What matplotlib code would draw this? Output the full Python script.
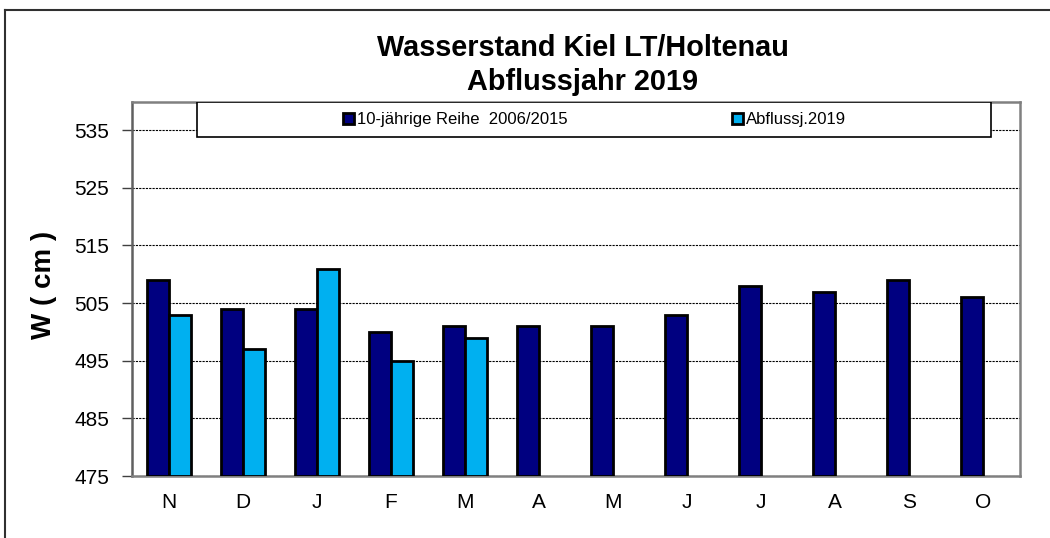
import numpy as np
import matplotlib
matplotlib.use("Agg")
from matplotlib import pyplot as plt
from matplotlib.patches import Rectangle
from matplotlib.lines import Line2D

plt.rcParams["font.family"] = ["Liberation Sans", "DejaVu Sans"]

months = ["N", "D", "J", "F", "M", "A", "M", "J", "J", "A", "S", "O"]
reihe = [509, 504, 504, 500, 501, 501, 501, 503, 508, 507, 509, 506]
abfluss = [503, 497, 511, 495, 499, np.nan, np.nan, np.nan, np.nan, np.nan, np.nan, np.nan]
yticks = [475, 485, 495, 505, 515, 525, 535]

fig = plt.figure(figsize=(10.5, 5.38), dpi=100)
ax = fig.add_axes([132 / 1050, 1 - 476 / 538, 888 / 1050, 374 / 538])

x = np.arange(len(months))
w = 0.3
ax.bar(x - w, np.array(reihe) - 475, width=w, bottom=475, align="edge",
       color="#000080", edgecolor="black", linewidth=2,
       label="10-jährige Reihe  2006/2015", zorder=3)
ax.bar(x, np.array(abfluss) - 475, width=w, bottom=475, align="edge",
       color="#00B0F0", edgecolor="black", linewidth=2,
       label="Abflussj.2019", zorder=3)

ax.set_xlim(-0.5, len(months) - 0.5)
ax.set_ylim(475, 539.9)
ax.set_yticks(yticks)
ax.set_xticks(x)
ax.set_xticklabels(months)
ax.tick_params(axis="x", length=0, pad=12, labelsize=15)
ax.tick_params(axis="y", length=7, width=1, pad=9.5, labelsize=15, color="#404040")
ax.yaxis.grid(True, color="black", linestyle=(0, (2, 1)), linewidth=0.8, zorder=0)
for s in ax.spines.values():
    s.set_color("#808080")
    s.set_linewidth(1.8)
ax.spines["left"].set_color("#606060")

ax.set_ylabel("W ( cm )", fontsize=20, fontweight="bold")
ax.yaxis.set_label_coords(-0.084, 0.51)
fig.text(0.5548, 1 - 48 / 538, "Wasserstand Kiel LT/Holtenau", ha="center", va="center",
         fontsize=20.8, fontweight="bold")
fig.text(0.5548, 1 - 82 / 538, "Abflussjahr 2019", ha="center", va="center",
         fontsize=20.8, fontweight="bold")

# legend box
box = Rectangle((65 / 888, 339 / 374), 794 / 888, 35 / 374, transform=ax.transAxes,
                facecolor="white", edgecolor="black", linewidth=1.2, zorder=5)
ax.add_patch(box)
leg = ax.legend(loc="center left", bbox_to_anchor=(0.228, 0.953), ncol=2, frameon=False,
                fontsize=12, handlelength=0.65, handleheight=0.65, handletextpad=0.2,
                columnspacing=9.85, borderpad=0)
leg.set_zorder(6)

# outer frame
fig.add_artist(Line2D([5 / 1050, 1], [1 - 10 / 538, 1 - 10 / 538], transform=fig.transFigure,
                      color="#303030", linewidth=1.5))
fig.add_artist(Line2D([5 / 1050, 5 / 1050], [0, 1 - 10 / 538], transform=fig.transFigure,
                      color="#303030", linewidth=1.5))

fig.savefig("out.png", dpi=100)
